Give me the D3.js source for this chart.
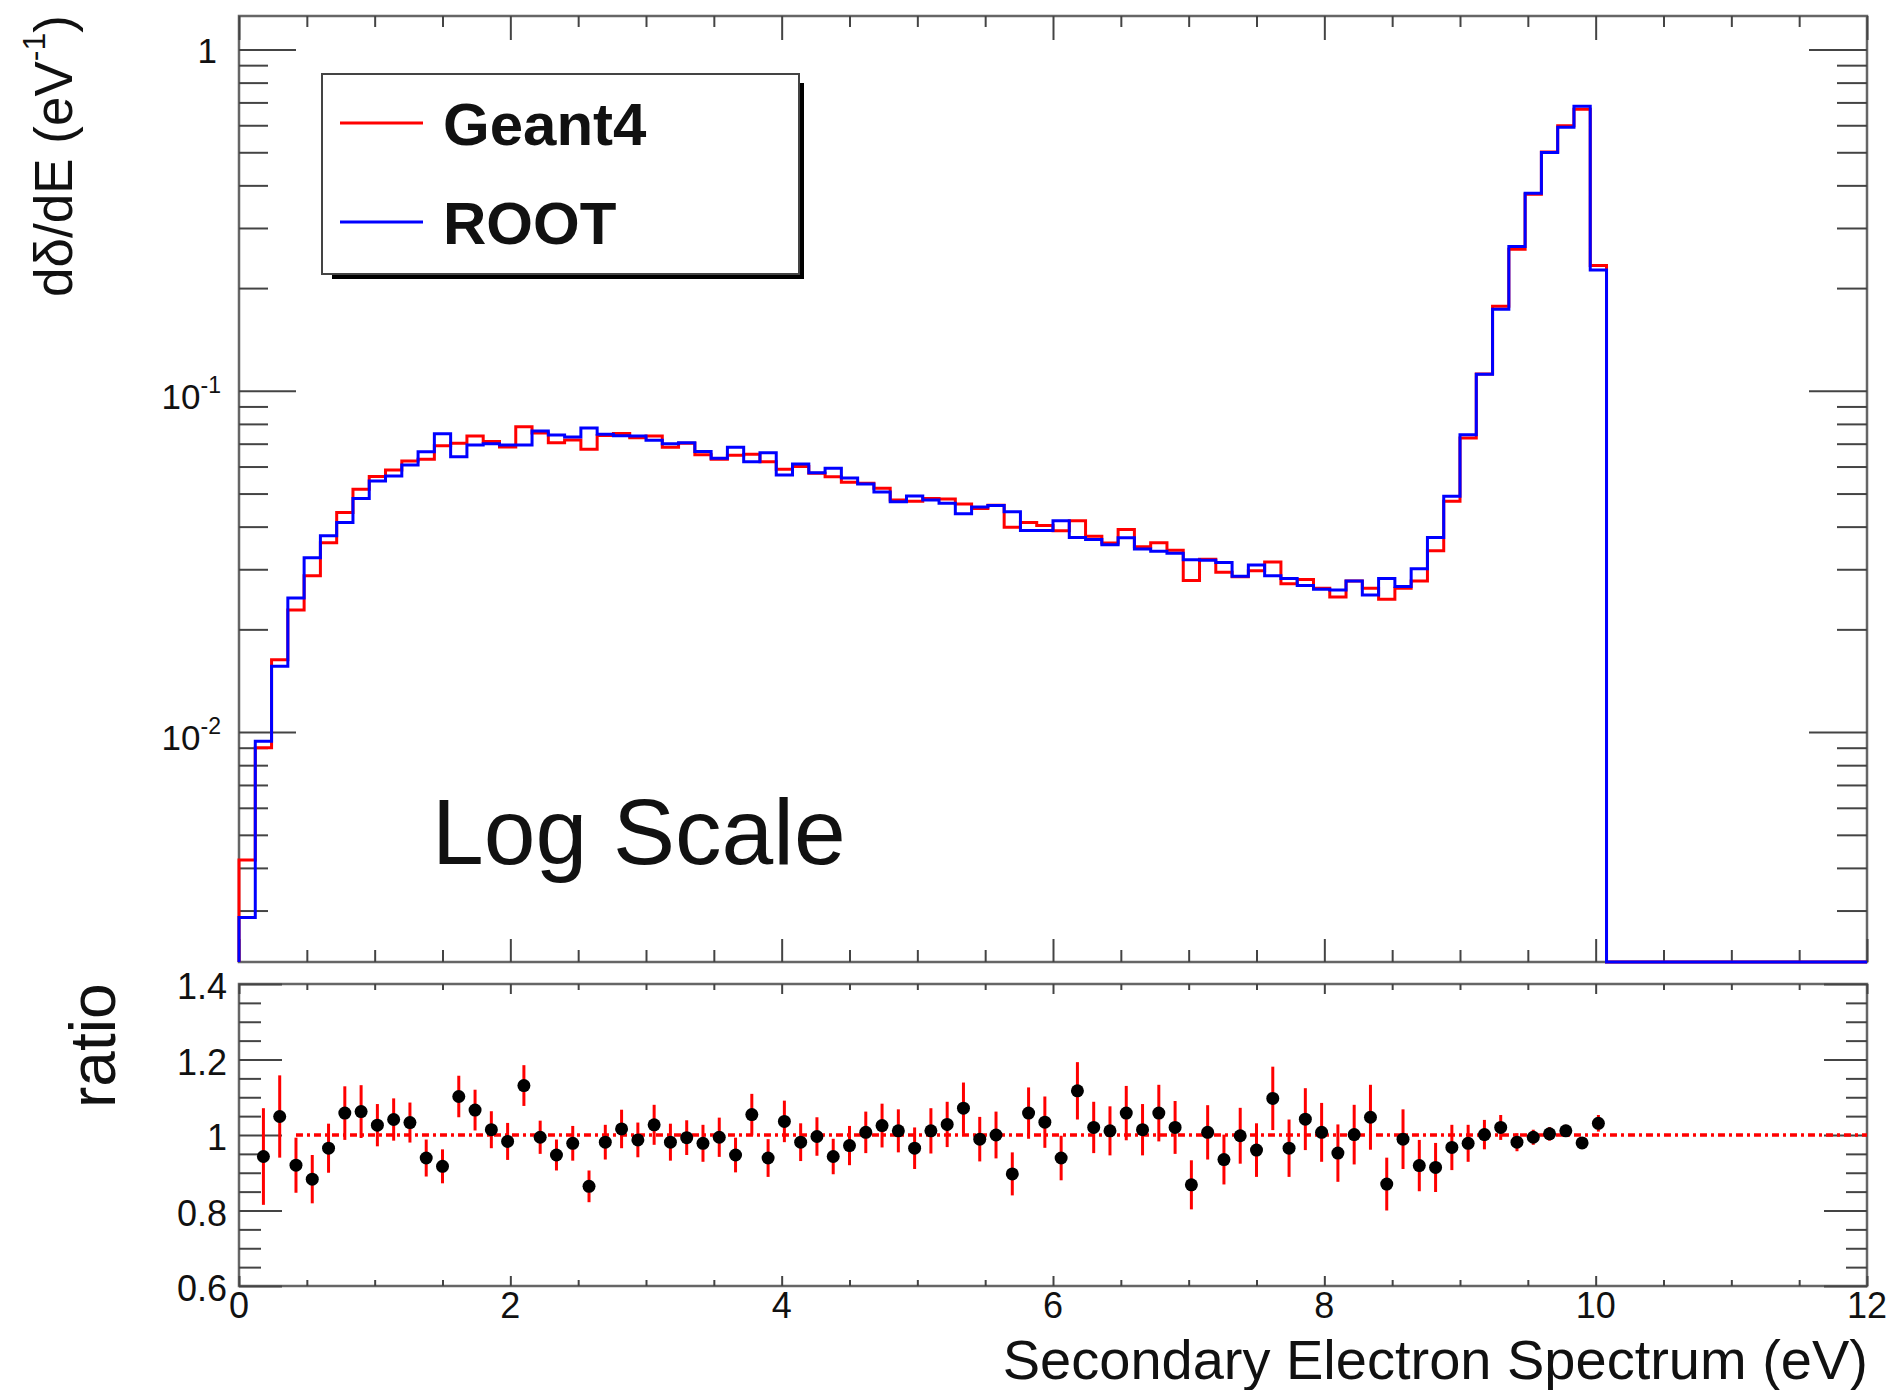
<!DOCTYPE html>
<html>
<head>
<meta charset="utf-8">
<script src="https://cdn.jsdelivr.net/npm/d3@7"></script>
<style>
  body { margin: 0; background: #fff; }
  text { font-family: "Liberation Sans", Arial, Helvetica, sans-serif; fill: #111; }
</style>
</head>
<body>
<svg id="chart" width="1891" height="1390"></svg>
<script>
var svg = d3.select("#chart");

// binning of both histograms (eV)
var binWidth = 0.12;
var xMin = 0;
var xMax = 12;

// d(delta)/dE per bin, 100 bins from 0 to 12 eV
var geant4 = [
  0.00422, 0.0090, 0.0163, 0.0228, 0.0287, 0.0359, 0.0440, 0.0515, 0.0561, 0.0586,
  0.0623, 0.0630, 0.0690, 0.0702, 0.0737, 0.0710, 0.0685, 0.0785, 0.0752, 0.0705,
  0.0718, 0.0674, 0.0740, 0.0750, 0.0728, 0.0737, 0.0683, 0.0702, 0.0650, 0.0630,
  0.0648, 0.0652, 0.0620, 0.0589, 0.0600, 0.0573, 0.0560, 0.0540, 0.0536, 0.0518,
  0.0479, 0.0475, 0.0484, 0.0482, 0.0466, 0.0452, 0.0462, 0.0398, 0.0411, 0.0403,
  0.0389, 0.0416, 0.0375, 0.0358, 0.0392, 0.0349, 0.0359, 0.0341, 0.0278, 0.0321,
  0.0294, 0.0285, 0.0297, 0.0315, 0.0272, 0.0280, 0.0264, 0.0249, 0.0277, 0.0264,
  0.0245, 0.0264, 0.0277, 0.0340, 0.0475, 0.0727, 0.1120, 0.1770, 0.2600, 0.3770,
  0.5010, 0.5980, 0.6680, 0.2330, 0, 0, 0, 0, 0, 0,
  0, 0, 0, 0, 0, 0, 0, 0, 0, 0
];

var root = [
  0.00286, 0.0094, 0.0156, 0.0247, 0.0324, 0.0376, 0.0411, 0.0484, 0.0544, 0.0563,
  0.0606, 0.0663, 0.0748, 0.0641, 0.0694, 0.0700, 0.0694, 0.0694, 0.0763, 0.0742,
  0.0732, 0.0778, 0.0746, 0.0738, 0.0737, 0.0716, 0.0700, 0.0705, 0.0664, 0.0634,
  0.0683, 0.0620, 0.0659, 0.0567, 0.0610, 0.0575, 0.0593, 0.0555, 0.0533, 0.0505,
  0.0473, 0.0492, 0.0479, 0.0468, 0.0436, 0.0457, 0.0461, 0.0442, 0.0390, 0.0390,
  0.0416, 0.0372, 0.0367, 0.0354, 0.0371, 0.0344, 0.0339, 0.0334, 0.0320, 0.0319,
  0.0314, 0.0286, 0.0309, 0.0287, 0.0282, 0.0269, 0.0262, 0.0261, 0.0277, 0.0252,
  0.0282, 0.0267, 0.0301, 0.0372, 0.0491, 0.0743, 0.1119, 0.1735, 0.2650, 0.3793,
  0.4995, 0.5915, 0.6820, 0.2260, 0, 0, 0, 0, 0, 0,
  0, 0, 0, 0, 0, 0, 0, 0, 0, 0
];

// Geant4 / ROOT ratio, bins 1..83
var ratioFirstBin = 1;
var ratio = [
  0.943, 1.049, 0.920, 0.883, 0.965, 1.058, 1.062, 1.026, 1.041, 1.033,
  0.939, 0.917, 1.102, 1.066, 1.014, 0.983, 1.131, 0.994, 0.947, 0.978,
  0.864, 0.981, 1.016, 0.987, 1.027, 0.981, 0.993, 0.978, 0.994, 0.947,
  1.054, 0.939, 1.036, 0.981, 0.996, 0.943, 0.972, 1.007, 1.025, 1.011,
  0.965, 1.011, 1.028, 1.071, 0.989, 1.000, 0.897, 1.058, 1.034, 0.939,
  1.117, 1.020, 1.011, 1.058, 1.014, 1.058, 1.020, 0.868, 1.007, 0.935,
  0.998, 0.960, 1.097, 0.965, 1.042, 1.007, 0.952, 1.001, 1.047, 0.870,
  0.989, 0.919, 0.914, 0.967, 0.978, 1.001, 1.020, 0.981, 0.994, 1.003,
  1.011, 0.979, 1.031
];
var ratioErr = [
  0.128, 0.109, 0.073, 0.064, 0.065, 0.071, 0.070, 0.056, 0.056, 0.053,
  0.049, 0.045, 0.055, 0.054, 0.049, 0.049, 0.054, 0.044, 0.041, 0.046,
  0.042, 0.046, 0.051, 0.046, 0.053, 0.049, 0.046, 0.049, 0.052, 0.046,
  0.055, 0.050, 0.055, 0.050, 0.051, 0.047, 0.052, 0.055, 0.058, 0.057,
  0.055, 0.060, 0.060, 0.068, 0.059, 0.062, 0.057, 0.068, 0.068, 0.059,
  0.076, 0.068, 0.065, 0.072, 0.068, 0.075, 0.070, 0.065, 0.072, 0.066,
  0.074, 0.071, 0.084, 0.076, 0.082, 0.078, 0.076, 0.079, 0.086, 0.070,
  0.079, 0.068, 0.065, 0.060, 0.049, 0.039, 0.033, 0.024, 0.020, 0.018,
  0.016, 0.014, 0.022
];

var xTicks = [0, 2, 4, 6, 8, 10, 12];
var upperTicks = [1, 0.1, 0.01];
var upperTickLabels = [["1", ""], ["10", "-1"], ["10", "-2"]];
var lowerTicks = [0.6, 0.8, 1, 1.2, 1.4];
var lowerTickLabels = ["0.6", "0.8", "1", "1.2", "1.4"];
var seriesNames = ["Geant4", "ROOT"];
var seriesColors = ["#ff0000", "#0000ff"];

// pad geometry
var left = 239, right = 1867;
var upTop = 16, upBottom = 962;
var loTop = 984, loBottom = 1286;
var yLogMin = 0.00212, yLogMax = 1.254;

var x = d3.scaleLinear().domain([xMin, xMax]).range([left, right]);
var yUp = d3.scaleLog().domain([yLogMin, yLogMax]).range([upBottom, upTop]);
var yLo = d3.scaleLinear().domain([0.6, 1.4]).range([loBottom, loTop]);

// frames
[[upTop, upBottom], [loTop, loBottom]].forEach(function(p) {
  svg.append("rect")
    .attr("x", left).attr("y", p[0])
    .attr("width", right - left).attr("height", p[1] - p[0])
    .attr("fill", "#fff")
    .attr("stroke", "#666")
    .attr("stroke-width", 2.5);
});

// inward ticks drawn with d3 axes, labels drawn separately
function ticks(axisFn, scale, values, size, transform) {
  var g = svg.append("g")
    .attr("transform", transform)
    .call(axisFn(scale).tickValues(values).tickSize(size).tickFormat(""));
  g.select(".domain").remove();
  g.selectAll("line").attr("stroke", "#444").attr("stroke-width", 2);
}

var xMinor = d3.range(0, 25).map(function(i) { return i * 0.5; })
  .filter(function(v) { return v % 2 !== 0; });

var logMinor = [];
[-3, -2, -1, 0].forEach(function(d) {
  for (var m = 2; m <= 9; m++) {
    var v = m * Math.pow(10, d);
    if (v >= yLogMin && v <= yLogMax) logMinor.push(v);
  }
});

var linMinor = d3.range(0, 17).map(function(i) { return 0.6 + i * 0.05; })
  .filter(function(v) { return Math.abs(Math.round(v * 5) - v * 5) > 1e-6; });

// upper pad
ticks(d3.axisTop, x, xTicks, 23, "translate(0," + upBottom + ")");
ticks(d3.axisTop, x, xMinor, 12, "translate(0," + upBottom + ")");
ticks(d3.axisBottom, x, xTicks, 24, "translate(0," + upTop + ")");
ticks(d3.axisBottom, x, xMinor, 11, "translate(0," + upTop + ")");
ticks(d3.axisRight, yUp, upperTicks, 57, "translate(" + left + ",0)");
ticks(d3.axisRight, yUp, logMinor, 29, "translate(" + left + ",0)");
ticks(d3.axisLeft, yUp, upperTicks, 58, "translate(" + right + ",0)");
ticks(d3.axisLeft, yUp, logMinor, 30, "translate(" + right + ",0)");

// lower pad
ticks(d3.axisTop, x, xTicks, 10, "translate(0," + loBottom + ")");
ticks(d3.axisTop, x, xMinor, 6, "translate(0," + loBottom + ")");
ticks(d3.axisBottom, x, xTicks, 10, "translate(0," + loTop + ")");
ticks(d3.axisBottom, x, xMinor, 6, "translate(0," + loTop + ")");
ticks(d3.axisRight, yLo, lowerTicks, 43, "translate(" + left + ",0)");
ticks(d3.axisRight, yLo, linMinor, 22, "translate(" + left + ",0)");
ticks(d3.axisLeft, yLo, lowerTicks, 43, "translate(" + right + ",0)");
ticks(d3.axisLeft, yLo, linMinor, 21, "translate(" + right + ",0)");

// upper y labels (powers of ten)
upperTicks.forEach(function(v, i) {
  var lab = upperTickLabels[i];
  var t = svg.append("text")
    .attr("x", lab[1] ? 221 : 217)
    .attr("y", yUp(v) + (lab[1] ? 18 : 13))
    .attr("text-anchor", "end")
    .style("font-size", "35px")
    .text(lab[0]);
  if (lab[1]) {
    t.append("tspan").attr("dy", -16).style("font-size", "23px").text(lab[1]);
  }
});

// lower y labels
svg.selectAll(".lolabel")
  .data(lowerTicks)
  .enter()
  .append("text")
    .attr("class", "lolabel")
    .attr("x", 227)
    .attr("y", function(d) { return yLo(d) + 15; })
    .attr("text-anchor", "end")
    .style("font-size", "36px")
    .text(function(d, i) { return lowerTickLabels[i]; });

// x labels
svg.selectAll(".xlabel")
  .data(xTicks)
  .enter()
  .append("text")
    .attr("class", "xlabel")
    .attr("x", function(d) { return x(d); })
    .attr("y", 1318)
    .attr("text-anchor", "middle")
    .style("font-size", "36px")
    .text(function(d) { return d; });

// histograms
function histPath(values) {
  var pts = [[x(xMin), yUp(yLogMin)]];
  values.forEach(function(v, i) {
    var yy = yUp(Math.max(v, yLogMin));
    pts.push([x(i * binWidth), yy]);
    pts.push([x((i + 1) * binWidth), yy]);
  });
  pts.push([x(xMax), yUp(yLogMin)]);
  return d3.line()(pts);
}

[geant4, root].forEach(function(values, i) {
  svg.append("path")
    .attr("d", histPath(values))
    .attr("fill", "none")
    .attr("stroke", seriesColors[i])
    .attr("stroke-width", 3)
    .attr("stroke-linejoin", "miter");
});

// ratio reference line
svg.append("line")
  .attr("x1", x(0.42)).attr("x2", x(xMax))
  .attr("y1", yLo(1)).attr("y2", yLo(1))
  .attr("stroke", "#ff0000")
  .attr("stroke-width", 3.5)
  .attr("stroke-dasharray", "7,4,3,4");

var ratioPts = ratio.map(function(r, i) {
  var b = ratioFirstBin + i;
  return { x: (b + 0.5) * binWidth, r: r, e: ratioErr[i] };
});

svg.selectAll(".err")
  .data(ratioPts)
  .enter()
  .append("line")
    .attr("class", "err")
    .attr("x1", function(d) { return x(d.x); })
    .attr("x2", function(d) { return x(d.x); })
    .attr("y1", function(d) { return yLo(d.r - d.e); })
    .attr("y2", function(d) { return yLo(d.r + d.e); })
    .attr("stroke", "#ff0000")
    .attr("stroke-width", 3);

svg.selectAll(".pt")
  .data(ratioPts)
  .enter()
  .append("circle")
    .attr("class", "pt")
    .attr("cx", function(d) { return x(d.x); })
    .attr("cy", function(d) { return yLo(d.r); })
    .attr("r", 6.5)
    .attr("fill", "#000");

// legend with ROOT style shadow
var legend = svg.append("g");
legend.append("rect")
  .attr("x", 332).attr("y", 83).attr("width", 472).attr("height", 196)
  .attr("fill", "#000");
legend.append("rect")
  .attr("x", 322).attr("y", 74).attr("width", 477).attr("height", 200)
  .attr("fill", "#fff")
  .attr("stroke", "#444")
  .attr("stroke-width", 2);

seriesNames.forEach(function(name, i) {
  var ly = 123 + i * 99;
  legend.append("line")
    .attr("x1", 340).attr("x2", 423)
    .attr("y1", ly).attr("y2", ly)
    .attr("stroke", seriesColors[i])
    .attr("stroke-width", 3);
  legend.append("text")
    .attr("x", 443).attr("y", ly + 22)
    .style("font-size", "60px")
    .style("font-weight", "bold")
    .text(name);
});

svg.append("text")
  .attr("x", 432).attr("y", 864)
  .style("font-size", "93px")
  .text("Log Scale");

// axis titles
var yTitle = svg.append("text")
  .attr("transform", "translate(72,297) rotate(-90)")
  .style("font-size", "53px")
  .text("d\u03b4/dE (eV");
yTitle.append("tspan").attr("dy", -27).style("font-size", "32px").text("-1");
yTitle.append("tspan").attr("dy", 27).text(")");

svg.append("text")
  .attr("transform", "translate(115,1108) rotate(-90)")
  .style("font-size", "64px")
  .text("ratio");

svg.append("text")
  .attr("x", 1868).attr("y", 1379)
  .attr("text-anchor", "end")
  .style("font-size", "56px")
  .text("Secondary Electron Spectrum (eV)");
</script>
</body>
</html>
